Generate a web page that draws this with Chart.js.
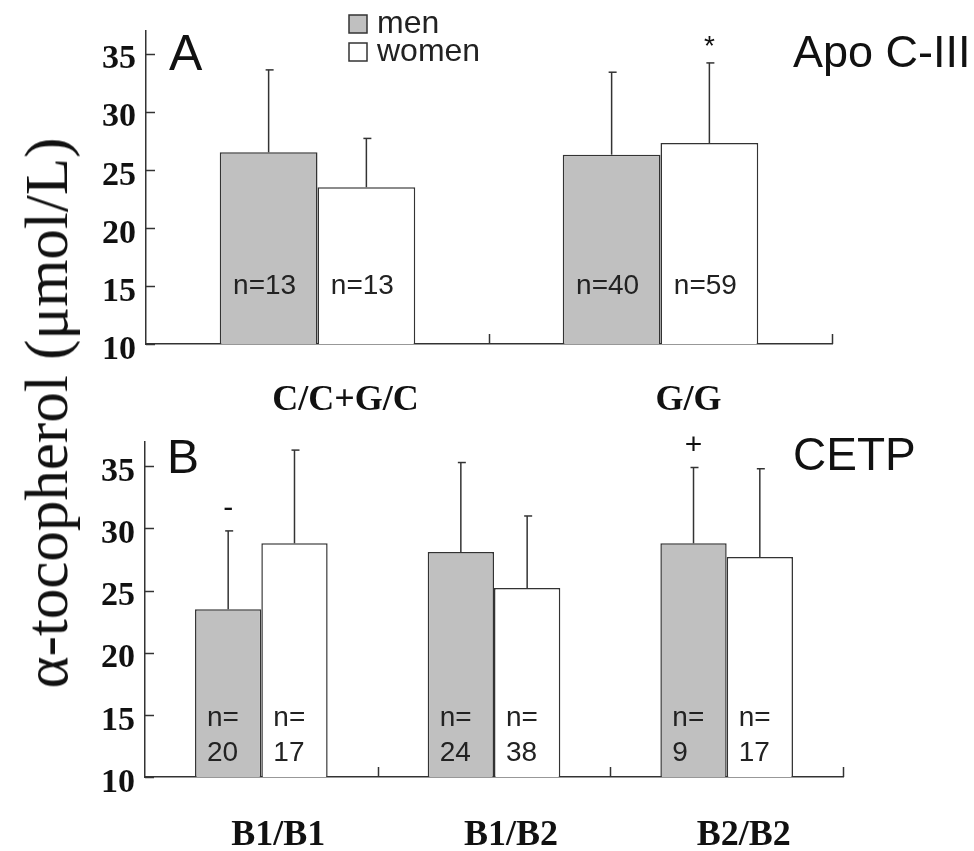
<!DOCTYPE html>
<html>
<head>
<meta charset="utf-8">
<script src="https://cdn.jsdelivr.net/npm/chart.js@4.4.1/dist/chart.umd.min.js"></script>
<style>
html, body { margin: 0; padding: 0; background: #fff; }
#wrap { position: relative; width: 974px; height: 851px; overflow: hidden; }
#topBox { position: absolute; left: 0; top: 0; width: 974px; height: 411px; }
#botBox { position: absolute; left: 0; top: 411px; width: 974px; height: 440px; }
#ytitle {
    position: absolute; left: 47px; top: 413px;
    transform: translate(-50%, -50%) rotate(-90deg);
    font: 61px "Liberation Serif", "Times New Roman", serif;
    white-space: nowrap; color: #111;
}
</style>
</head>
<body>
<div id="wrap">
    <div id="topBox"><canvas id="chartA" width="974" height="411"></canvas></div>
    <div id="botBox"><canvas id="chartB" width="974" height="440"></canvas></div>
    <div id="ytitle">α-tocopherol (μmol/L)</div>
</div>
<script>
// --- DATA ---
const yTicks = [10, 15, 20, 25, 30, 35];
const seriesNames = ['men', 'women'];

// Panel A: Apo C-III
const genotypesA = ['C/C+G/C', 'G/G'];
const menA = [26.5, 26.3];
const menSdA = [7.1, 7.1];
const womenA = [23.5, 27.3];
const womenSdA = [4.2, 6.9];
const nMenA = [13, 40];
const nWomenA = [13, 59];
const marksMenA = ['', ''];
const marksWomenA = ['', '*'];

// Panel B: CETP
const genotypesB = ['B1/B1', 'B1/B2', 'B2/B2'];
const menB = [23.5, 28.1, 28.8];
const menSdB = [6.3, 7.2, 6.1];
const womenB = [28.8, 25.2, 27.7];
const womenSdB = [7.5, 5.8, 7.1];
const nMenB = [20, 24, 9];
const nWomenB = [17, 38, 17];
const marksMenB = ['-', '', '+'];
const marksWomenB = ['', '', ''];

// --- STYLE ---
const MEN_FILL = '#c0c0c0';
const WOMEN_FILL = '#ffffff';
const EDGE = '#333333';
const INK = '#111111';
const SANS = '"Liberation Sans", Arial, sans-serif';
const SERIF = '"Liberation Serif", "Times New Roman", serif';

function line(ctx, x1, y1, x2, y2) {
    ctx.beginPath();
    ctx.moveTo(x1, y1);
    ctx.lineTo(x2, y2);
    ctx.stroke();
}

// --- Decorations: inward ticks, error bars, n labels, marks, legend, panel texts ---
const decor = {
    id: 'decor',
    afterDatasetsDraw(chart, args, opts) {
        const ctx = chart.ctx;
        const xs = chart.scales.x;
        const ys = chart.scales.y;
        const area = chart.chartArea;
        ctx.save();
        ctx.strokeStyle = EDGE;
        ctx.lineWidth = 1.5;

        // y ticks pointing into the plot
        ys.ticks.forEach(t => {
            const py = Math.round(ys.getPixelForValue(t.value)) + 0.5;
            line(ctx, area.left, py, area.left + 9, py);
        });

        // category boundaries on the x axis
        const nCat = xs.getLabels().length;
        const w = (area.right - area.left) / nCat;
        for (let i = 1; i <= nCat; i++) {
            const px = Math.round(area.left + w * i) + 0.5;
            line(ctx, px, area.bottom, px, area.bottom - 10);
        }

        // error bars + marks + n labels
        chart.data.datasets.forEach((ds, di) => {
            const meta = chart.getDatasetMeta(di);
            meta.data.forEach((bar, i) => {
                const p = bar.getProps(['x', 'y', 'width'], true);
                const top = ys.getPixelForValue(ds.data[i] + ds.sd[i]);
                ctx.strokeStyle = EDGE;
                ctx.lineWidth = 1.5;
                line(ctx, p.x, p.y, p.x, top);
                line(ctx, p.x - 3, top, p.x + 5, top);

                if (ds.marks[i]) {
                    ctx.fillStyle = INK;
                    ctx.font = opts.markFont;
                    ctx.textAlign = 'center';
                    ctx.textBaseline = 'alphabetic';
                    ctx.fillText(ds.marks[i], p.x, top - opts.markGap);
                }

                ctx.fillStyle = '#222';
                ctx.font = '28px ' + SANS;
                ctx.textBaseline = 'middle';
                if (opts.stacked) {
                    ctx.textAlign = 'left';
                    const lx = p.x - p.width / 2 + 12;
                    const ly = ys.getPixelForValue(opts.nValue);
                    ctx.fillText('n=', lx, ly);
                    ctx.fillText(String(ds.n[i]), lx, ly + 35);
                } else {
                    ctx.textAlign = 'center';
                    ctx.fillText('n=' + ds.n[i], p.x - 4, ys.getPixelForValue(opts.nValue));
                }
            });
        });

        // panel letter and gene name
        ctx.fillStyle = INK;
        ctx.textAlign = 'left';
        ctx.textBaseline = 'alphabetic';
        ctx.font = opts.panelSize + 'px ' + SANS;
        ctx.fillText(opts.panel, opts.panelX, opts.panelY);
        ctx.font = opts.geneSize + 'px ' + SANS;
        ctx.fillText(opts.gene, opts.geneX, opts.geneY);

        // legend
        if (opts.legend) {
            chart.data.datasets.forEach((ds, di) => {
                const ly = opts.legendY + di * 28;
                ctx.fillStyle = ds.backgroundColor;
                ctx.fillRect(349, ly, 18, 18);
                ctx.strokeStyle = EDGE;
                ctx.lineWidth = 1.5;
                ctx.strokeRect(349, ly, 18, 18);
                ctx.fillStyle = '#222';
                ctx.font = '32px ' + SANS;
                ctx.textBaseline = 'alphabetic';
                ctx.fillText(ds.label, 377, ly + 18);
            });
        }
        ctx.restore();
    }
};

function makeChart(canvasId, labels, men, menSd, nMen, marksMen, women, womenSd, nWomen, marksWomen, geo, deco) {
    return new Chart(document.getElementById(canvasId), {
        type: 'bar',
        data: {
            labels,
            datasets: [
                { label: seriesNames[0], data: men, sd: menSd, n: nMen, marks: marksMen,
                  backgroundColor: MEN_FILL, borderColor: EDGE, borderWidth: 1.5 },
                { label: seriesNames[1], data: women, sd: womenSd, n: nWomen, marks: marksWomen,
                  backgroundColor: WOMEN_FILL, borderColor: EDGE, borderWidth: 1.5 }
            ]
        },
        options: {
            responsive: false,
            animation: false,
            layout: { padding: { left: 0, right: geo.padRight, top: geo.padTop, bottom: 0 } },
            datasets: { bar: { categoryPercentage: 0.57, barPercentage: 1.0 } },
            scales: {
                x: {
                    grid: { drawOnChartArea: false, drawTicks: false },
                    border: { color: EDGE, width: 1.5 },
                    ticks: {
                        color: INK, padding: geo.xPad, labelOffset: geo.xOffset, maxRotation: 0,
                        font: { family: SERIF, size: 36, weight: 'bold' }
                    },
                    afterFit(scale) { scale.height = geo.xHeight; }
                },
                y: {
                    min: 10, max: 37,
                    grid: { drawOnChartArea: false, drawTicks: false },
                    border: { color: EDGE, width: 1.5 },
                    ticks: {
                        color: INK, padding: 10, labelOffset: 6,
                        font: { family: SERIF, size: 34, weight: 'bold' }
                    },
                    afterBuildTicks(scale) { scale.ticks = yTicks.map(v => ({ value: v })); },
                    afterFit(scale) { scale.width = geo.yWidth; }
                }
            },
            plugins: {
                legend: { display: false },
                tooltip: { enabled: false },
                decor: deco
            }
        },
        plugins: [decor]
    });
}

makeChart('chartA', genotypesA, menA, menSdA, nMenA, marksMenA, womenA, womenSdA, nWomenA, marksWomenA,
    { padRight: 142, padTop: 29, xHeight: 67, yWidth: 146, xPad: 35, xOffset: 28 },
    { panel: 'A', panelSize: 50, panelX: 169, panelY: 70,
      gene: 'Apo C-III', geneSize: 45, geneX: 793, geneY: 67,
      legend: true, legendY: 15, stacked: false, nValue: 15,
      markFont: '28px ' + SANS, markGap: 8 });

makeChart('chartB', genotypesB, menB, menSdB, nMenB, marksMenB, womenB, womenSdB, nWomenB, marksWomenB,
    { padRight: 131, padTop: 30, xHeight: 74, yWidth: 145, xPad: 37, xOffset: 17 },
    { panel: 'B', panelSize: 48, panelX: 167, panelY: 62,
      gene: 'CETP', geneSize: 46, geneX: 793, geneY: 59,
      legend: false, stacked: true, nValue: 14.7,
      markFont: '30px ' + SANS, markGap: 14 });
</script>
</body>
</html>
